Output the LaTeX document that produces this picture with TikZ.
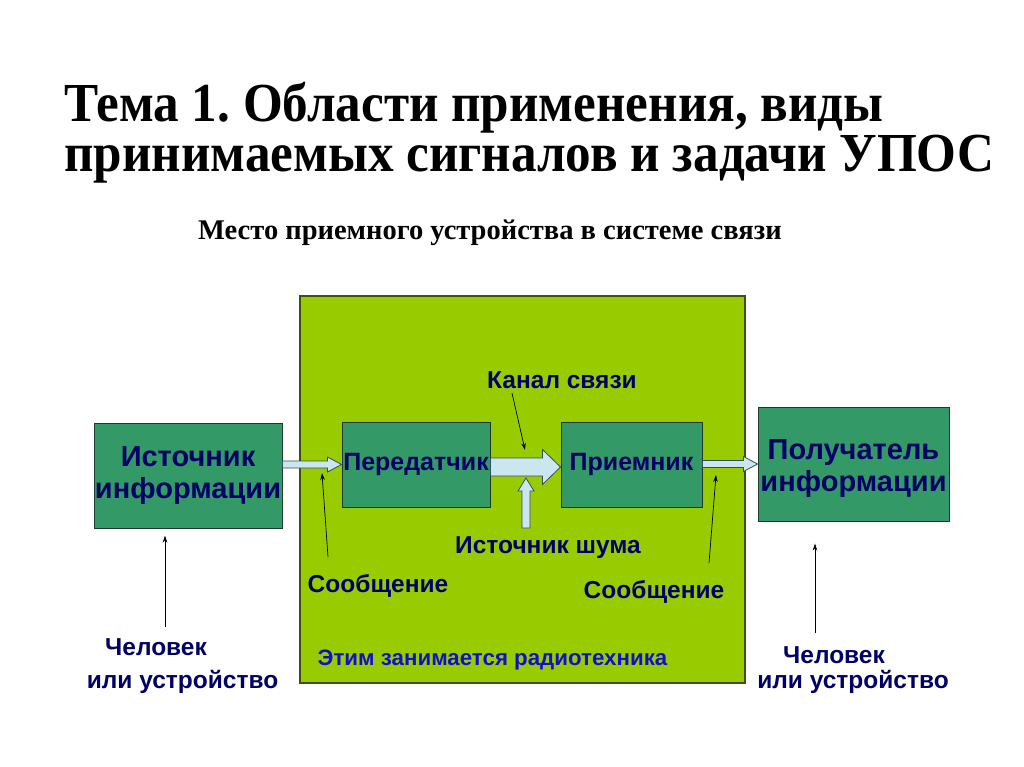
\documentclass[tikz,border=0pt]{standalone}
\usepackage{fontspec}
\setmainfont{Liberation Serif}
\newfontfamily\titlefont{Liberation Serif}[FakeStretch=0.93]
\newfontfamily\lab{Liberation Sans}
\usetikzlibrary{calc,arrows.meta}
\definecolor{limebg}{HTML}{99CC00}
\definecolor{limeedge}{HTML}{3F4F10}
\definecolor{boxfill}{HTML}{339966}
\definecolor{boxedge}{HTML}{1E3A2A}
\definecolor{navy}{HTML}{000066}
\definecolor{royal}{HTML}{1010CC}
\definecolor{arrfill}{HTML}{CBE6EE}
\definecolor{arredge}{HTML}{2F4F5F}
\tikzset{
  bigbox/.style={draw=limeedge, line width=1.2pt, fill=limebg, inner sep=0},
  block/.style={draw=boxedge, line width=1pt, fill=boxfill, inner sep=0, text=navy, align=center},
  lbl/.style={text=navy, inner sep=0, anchor=base, font=\lab\bfseries\fontsize{24.5}{28}\selectfont},
  barrow/.style={draw=arredge, line width=0.8pt, fill=arrfill, line join=miter},
  pointer/.style={draw=black, line width=0.7pt, -{Stealth[length=7pt,width=4.5pt]}},
}
\newcommand\hblock[5]{% tail, tip, shaft half, head half, head length
  \draw[barrow] ($#1+(0,#3)$) -- ($#2+(-#5,#3)$) -- ($#2+(-#5,#4)$) -- #2
    -- ($#2+(-#5,-#4)$) -- ($#2+(-#5,-#3)$) -- ($#1+(0,-#3)$) -- cycle;}
\newcommand\vblock[5]{% base, tip (above), shaft half, head half, head length
  \draw[barrow] ($#1+(-#3,0)$) -- ($#2+(-#3,#5)$) -- ($#2+(-#4,#5)$) -- #2
    -- ($#2+(#4,#5)$) -- ($#2+(#3,#5)$) -- ($#1+(#3,0)$) -- cycle;}
\frenchspacing
\begin{document}
\begin{tikzpicture}[x=1pt,y=-1pt]
\useasboundingbox (0,0) rectangle (1024,767);
\fill[white] (0,0) rectangle (1024,767);

% titles
\node[anchor=base west, inner sep=0, font=\titlefont\bfseries\fontsize{55}{60}\selectfont] (t1) at (64,122) {Тема 1. Области применения, виды};
\node[anchor=base west, inner sep=0, font=\titlefont\bfseries\fontsize{55}{60}\selectfont] (t2) at (64,172) {принимаемых сигналов и задачи УПОС};
\node[anchor=base west, inner sep=0, font=\bfseries\fontsize{28.5}{30}\selectfont] (sub) at (198,240) {Место приемного устройства в системе связи};

% big radio-engineering area
\node[bigbox, minimum width=445, minimum height=387] (big) at (522.5,489.5) {};

% blocks
\node[block, minimum width=188, minimum height=105, font=\lab\bfseries\fontsize{29}{32}\selectfont] (src) at (188,475.5) {Источник\\информации};
\node[block, minimum width=191, minimum height=114,
  label={[yshift=-5pt, inner sep=0, text=navy, align=center, font=\lab\bfseries\fontsize{29}{32}\selectfont]center:Получатель\\информации}] (dst) at (853.5,464) {};
\node[block, minimum width=148, minimum height=85, font=\lab\bfseries\fontsize{25}{28}\selectfont] (tx) at (416,464.5) {Передатчик};
\node[block, minimum width=141, minimum height=85, font=\lab\bfseries\fontsize{25}{28}\selectfont] (rx) at (631.5,464.5) {Приемник};

% labels
\node[lbl] (kanal) at (562,388) {Канал связи};
\node[lbl] (noise) at (548,553) {Источник шума};
\node[lbl] (msgL) at (378,592) {Сообщение};
\node[lbl] (msgR) at (654,598) {Сообщение};
\node[lbl, text=royal, font=\lab\bfseries\fontsize{22.3}{26}\selectfont] (radio) at (492.5,665) {Этим занимается радиотехника};
\node[lbl] (humL1) at (156,655) {Человек};
\node[lbl] (humL2) at (182.5,688) {или устройство};
\node[lbl] (humR1) at (834,663) {Человек};
\node[lbl] (humR2) at (853,688) {или устройство};

% block arrows
\hblock{(src.east|-tx.west)}{(tx.west)}{3.5}{7.5}{14}
\coordinate (chA) at ($(tx.east)+(0,2.5)$);
\coordinate (chB) at ($(rx.west)+(0,2.5)$);
\hblock{(chA)}{(chB)}{9}{17.5}{18}
\hblock{(rx.east|-dst.west)}{(dst.west)}{3.5}{7.5}{14}
\coordinate (nbase) at (526,528);
\coordinate (ntip) at (526,478);
\vblock{(nbase)}{(ntip)}{4}{8}{13}

% pointers
\coordinate (kanalP) at (512,393);
\coordinate (kanalT) at (525,450);
\draw[pointer] (kanalP) -- (kanalT);
\coordinate (msgLP) at (328,557);
\coordinate (msgLT) at (322,473);
\draw[pointer] (msgLP) -- (msgLT);
\coordinate (msgRP) at (709,563);
\coordinate (msgRT) at (716,475);
\draw[pointer] (msgRP) -- (msgRT);
\coordinate (humLP) at (165,627);
\draw[pointer, shorten >=7pt] (humLP) -- (humLP|-src.south);
\coordinate (humRP) at (815,633);
\draw[pointer, shorten >=22pt] (humRP) -- (humRP|-dst.south);
\end{tikzpicture}
\end{document}
